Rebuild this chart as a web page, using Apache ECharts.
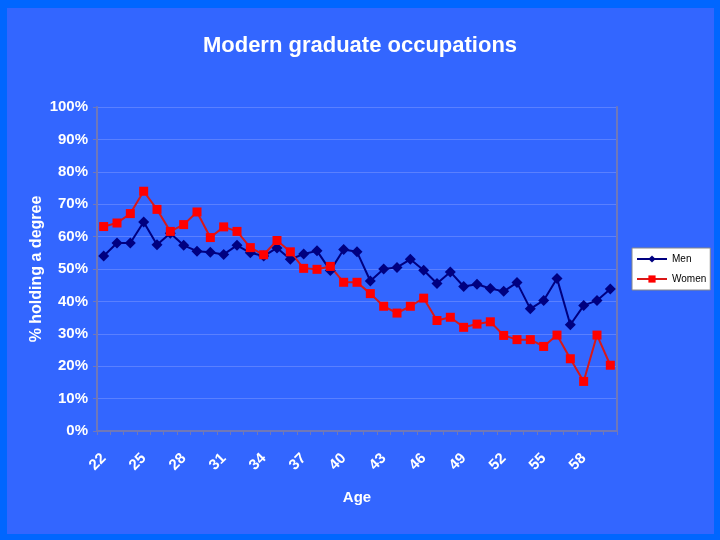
<!DOCTYPE html>
<html><head><meta charset="utf-8">
<script src="https://cdn.jsdelivr.net/npm/echarts@6/dist/echarts.min.js"></script>
<style>html,body{margin:0;padding:0;background:#0066FF}#c{width:720px;height:540px}</style>
</head><body><div id="c"></div>
<script>
const ages = ['22','23','24','25','26','27','28','29','30','31','32','33','34','35','36','37','38','39','40','41','42','43','44','45','46','47','48','49','50','51','52','53','54','55','56','57','58','59','60'];
const men = [54.0,58.0,58.0,64.5,57.5,61.0,57.3,55.5,55.2,54.5,57.3,55.0,54.0,56.5,53.0,54.6,55.6,49.5,56.0,55.3,46.3,50.0,50.5,53.0,49.6,45.5,49.1,44.6,45.3,44.0,43.1,45.8,37.7,40.3,47.1,32.8,38.7,40.3,43.8];
const women = [63.1,64.2,67.1,74.0,68.4,61.6,63.7,67.6,59.7,63.0,61.6,56.6,54.4,58.8,55.3,50.2,49.9,50.8,45.9,45.9,42.4,38.5,36.4,38.5,41.0,34.1,35.1,32.0,33.0,33.7,29.5,28.2,28.2,26.1,29.6,22.3,15.3,29.6,20.3];
const yTicks = [0,10,20,30,40,50,60,70,80,90,100];

const F = 'Liberation Sans, Arial, sans-serif';
const chart = echarts.init(document.getElementById('c'));
chart.setOption({
  backgroundColor: '#0066FF',
  animation: false,
  graphic: [{type:'rect', z:-10, shape:{x:7,y:8,width:707,height:526}, style:{fill:'#3366FF'}}],
  title: {text:'Modern graduate occupations', left:'center', top:30,
    textStyle:{color:'#fff', fontFamily:F, fontWeight:'bold', fontSize:22}},
  legend: {orient:'vertical', left:632, top:248, backgroundColor:'#fff', borderColor:'#888', borderWidth:1,
    padding:[6,4,6,4], itemGap:10, itemWidth:30, itemHeight:9,
    textStyle:{color:'#000', fontFamily:F, fontSize:10},
    data:['Men','Women']},
  grid: {left:97, right:103, top:107, bottom:109},
  xAxis: {type:'category', data:ages, boundaryGap:true,
    name:'Age', nameLocation:'middle', nameGap:59,
    nameTextStyle:{color:'#fff', fontFamily:F, fontWeight:'bold', fontSize:15},
    axisLine:{lineStyle:{color:'#7078b8', width:2}},
    axisTick:{show:true, interval:0, length:4, inside:false, lineStyle:{color:'#7078b8'}},
    axisLabel:{interval:2, rotate:45, margin:25, color:'#fff', fontFamily:F, fontWeight:'bold', fontSize:15},
    splitLine:{show:false}},
  yAxis: [{type:'value', min:0, max:100, interval:10,
    name:'% holding a degree', nameLocation:'middle', nameGap:52, nameRotate:90, nameMoveOverlap:false,
    nameTextStyle:{color:'#fff', fontFamily:F, fontWeight:'bold', fontSize:16},
    axisLine:{show:true, lineStyle:{color:'#7078b8', width:2}},
    axisTick:{show:true, length:4, lineStyle:{color:'#7078b8'}},
    axisLabel:{margin:9, color:'#fff', fontFamily:F, fontWeight:'bold', fontSize:15,
      formatter: v => yTicks.includes(v) ? v + '%' : ''},
    splitLine:{show:true, lineStyle:{color:'#5a80ff', width:1}}},
    {type:'value', min:0, max:100, interval:10, position:'right',
     axisLine:{show:true, lineStyle:{color:'#7078b8', width:2}},
     axisTick:{show:false}, axisLabel:{show:false}, splitLine:{show:false}}],
  series: [
    {name:'Men', type:'line', data:men, symbol:'diamond', symbolSize:11, showAllSymbol:true,
      lineStyle:{color:'#000080', width:2}, itemStyle:{color:'#000080'}},
    {name:'Women', type:'line', data:women, symbol:'rect', symbolSize:9, showAllSymbol:true,
      lineStyle:{color:'#D81818', width:2}, itemStyle:{color:'#FF0000'}}
  ]
});
</script></body></html>
